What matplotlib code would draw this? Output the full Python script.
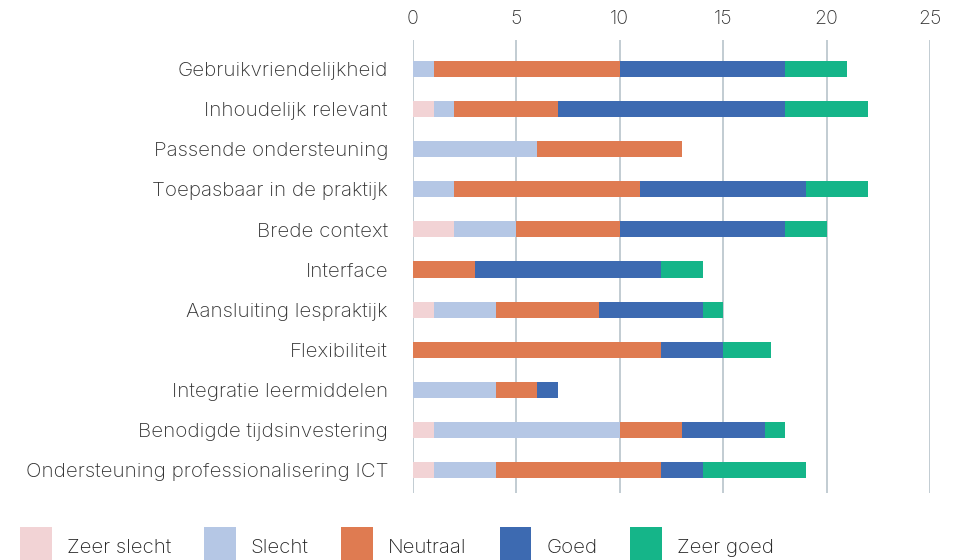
import numpy as np
import matplotlib
matplotlib.use("Agg")
import matplotlib.pyplot as plt

plt.rcParams['font.family'] = ['Inter', 'DejaVu Sans']

categories = [
    "Gebruikvriendelijkheid",
    "Inhoudelijk relevant",
    "Passende ondersteuning",
    "Toepasbaar in de praktijk",
    "Brede context",
    "Interface",
    "Aansluiting lespraktijk",
    "Flexibiliteit",
    "Integratie leermiddelen",
    "Benodigde tijdsinvestering",
    "Ondersteuning professionalisering ICT",
]

series_names = ["Zeer slecht", "Slecht", "Neutraal", "Goed", "Zeer goed"]

zeer_slecht = [0, 1, 0, 0, 2, 0, 1, 0, 0, 1, 1]
slecht      = [1, 1, 6, 2, 3, 0, 3, 0, 4, 9, 3]
neutraal    = [9, 5, 7, 9, 5, 3, 5, 12, 2, 3, 8]
goed        = [8, 11, 0, 8, 8, 9, 5, 3, 1, 4, 2]
zeer_goed   = [3, 4, 0, 3, 2, 2, 1, 2.3, 0, 1, 5]

colors = ["#f2d3d5", "#b5c7e5", "#df7b51", "#3d6ab1", "#15b589"]

x_ticks = [0, 5, 10, 15, 20, 25]

fig = plt.figure(figsize=(9.57, 5.6), dpi=100)
ax = fig.add_axes([413/957, 1 - 493/560, (930 - 413)/957, (493 - 40)/560])

y = np.arange(len(categories))
left = np.zeros(len(categories))
for name, vals, col in zip(series_names, [zeer_slecht, slecht, neutraal, goed, zeer_goed], colors):
    vals = np.array(vals, dtype=float)
    ax.barh(y, vals, left=left, height=0.4, color=col, label=name, zorder=2)
    left += vals

ax.set_xlim(0, 25)
ax.set_ylim(10.574, -0.723)
ax.set_xticks(x_ticks)
ax.xaxis.tick_top()
ax.tick_params(axis='x', length=0, pad=9, labelsize=14, colors='#333333')
ax.tick_params(axis='y', length=0, pad=18, labelsize=14.8, colors='#333333')
ax.set_yticks(y)
ax.set_yticklabels(categories, fontweight='light')
for t in ax.get_xticklabels():
    t.set_fontweight('light')
ax.grid(axis='x', color='#b8c3cb', linewidth=1.2, zorder=0)
for s in ax.spines.values():
    s.set_visible(False)

leg = fig.legend(loc='upper left', bbox_to_anchor=(20/957, 1 - 527/560), ncol=5,
                 frameon=False, fontsize=14.7, handlelength=1.55, handleheight=2.6,
                 handletextpad=0.75, columnspacing=1.6, borderaxespad=0,
                 borderpad=0, labelcolor='#222222')
for t in leg.get_texts():
    t.set_fontweight('light')

fig.savefig("out.png", dpi=100)
